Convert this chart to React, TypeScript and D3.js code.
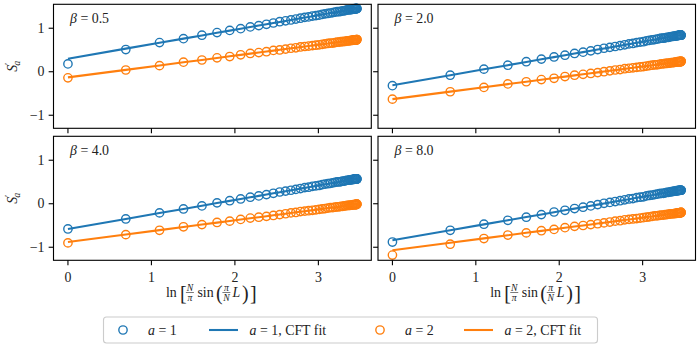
import * as d3 from 'd3'

// x = ln[N/pi sin(pi L / N)], N = 100, L = 1..50
const xLogChord = [
  0.000, 0.693, 1.097, 1.384, 1.605, 1.786, 1.938, 2.069, 2.184, 2.286,
  2.378, 2.461, 2.537, 2.607, 2.671, 2.730, 2.785, 2.837, 2.884, 2.929,
  2.971, 3.010, 3.047, 3.081, 3.114, 3.144, 3.173, 3.200, 3.225, 3.249,
  3.271, 3.291, 3.311, 3.328, 3.345, 3.361, 3.375, 3.388, 3.400, 3.410,
  3.420, 3.429, 3.436, 3.443, 3.448, 3.453, 3.456, 3.459, 3.460, 3.461,
]

const betas = ['0.5', '2.0', '4.0', '8.0']

const sA1Beta05 = [
  0.18, 0.51, 0.67, 0.76, 0.84, 0.90, 0.95, 0.99, 1.03, 1.06,
  1.09, 1.12, 1.15, 1.17, 1.19, 1.21, 1.23, 1.25, 1.26, 1.28,
  1.29, 1.30, 1.32, 1.33, 1.34, 1.35, 1.36, 1.37, 1.38, 1.38,
  1.39, 1.40, 1.40, 1.41, 1.42, 1.42, 1.43, 1.43, 1.43, 1.44,
  1.44, 1.44, 1.45, 1.45, 1.45, 1.45, 1.45, 1.45, 1.45, 1.45,
]
const sA2Beta05 = [
  -0.14, 0.04, 0.14, 0.22, 0.27, 0.32, 0.35, 0.39, 0.42, 0.44,
  0.46, 0.49, 0.50, 0.52, 0.54, 0.55, 0.57, 0.58, 0.59, 0.60,
  0.61, 0.62, 0.63, 0.64, 0.65, 0.66, 0.66, 0.67, 0.68, 0.68,
  0.69, 0.69, 0.70, 0.70, 0.71, 0.71, 0.71, 0.72, 0.72, 0.72,
  0.73, 0.73, 0.73, 0.73, 0.73, 0.73, 0.73, 0.74, 0.74, 0.74,
]
const sA1Beta2 = [
  -0.32, -0.08, 0.06, 0.15, 0.23, 0.29, 0.34, 0.38, 0.42, 0.45,
  0.48, 0.51, 0.54, 0.56, 0.58, 0.60, 0.62, 0.64, 0.65, 0.67,
  0.68, 0.69, 0.71, 0.72, 0.73, 0.74, 0.75, 0.76, 0.77, 0.77,
  0.78, 0.79, 0.79, 0.80, 0.81, 0.81, 0.82, 0.82, 0.82, 0.83,
  0.83, 0.83, 0.84, 0.84, 0.84, 0.84, 0.84, 0.84, 0.84, 0.84,
]
const sA2Beta2 = [
  -0.63, -0.46, -0.36, -0.28, -0.23, -0.18, -0.15, -0.11, -0.08, -0.06,
  -0.04, -0.02, 0.00, 0.02, 0.04, 0.05, 0.07, 0.08, 0.09, 0.10,
  0.11, 0.12, 0.13, 0.14, 0.15, 0.16, 0.16, 0.17, 0.18, 0.18,
  0.19, 0.19, 0.20, 0.20, 0.21, 0.21, 0.21, 0.22, 0.22, 0.22,
  0.23, 0.23, 0.23, 0.23, 0.23, 0.23, 0.23, 0.24, 0.24, 0.24,
]
const sA1Beta4 = [
  -0.58, -0.35, -0.21, -0.12, -0.05, 0.02, 0.07, 0.11, 0.15, 0.18,
  0.21, 0.24, 0.27, 0.29, 0.31, 0.33, 0.35, 0.37, 0.38, 0.40,
  0.41, 0.42, 0.44, 0.45, 0.46, 0.47, 0.48, 0.49, 0.50, 0.50,
  0.51, 0.52, 0.52, 0.53, 0.54, 0.54, 0.55, 0.55, 0.55, 0.56,
  0.56, 0.56, 0.57, 0.57, 0.57, 0.57, 0.57, 0.57, 0.57, 0.57,
]
const sA2Beta4 = [
  -0.90, -0.71, -0.61, -0.53, -0.48, -0.43, -0.40, -0.36, -0.33, -0.31,
  -0.29, -0.27, -0.25, -0.23, -0.21, -0.20, -0.18, -0.17, -0.16, -0.15,
  -0.14, -0.13, -0.12, -0.11, -0.10, -0.09, -0.09, -0.08, -0.07, -0.07,
  -0.06, -0.06, -0.05, -0.05, -0.04, -0.04, -0.04, -0.03, -0.03, -0.03,
  -0.02, -0.02, -0.02, -0.02, -0.02, -0.02, -0.02, -0.01, -0.01, -0.01,
]
const sA1Beta8 = [
  -0.88, -0.61, -0.47, -0.38, -0.31, -0.25, -0.19, -0.15, -0.11, -0.08,
  -0.05, -0.02, 0.01, 0.03, 0.05, 0.07, 0.09, 0.11, 0.12, 0.14,
  0.15, 0.16, 0.18, 0.19, 0.20, 0.21, 0.22, 0.23, 0.24, 0.24,
  0.25, 0.26, 0.26, 0.27, 0.28, 0.28, 0.29, 0.29, 0.29, 0.30,
  0.30, 0.30, 0.31, 0.31, 0.31, 0.31, 0.31, 0.31, 0.31, 0.31,
]
const sA2Beta8 = [
  -1.18, -0.93, -0.80, -0.72, -0.67, -0.62, -0.59, -0.55, -0.52, -0.50,
  -0.48, -0.46, -0.44, -0.42, -0.40, -0.39, -0.37, -0.36, -0.35, -0.34,
  -0.33, -0.32, -0.31, -0.30, -0.29, -0.28, -0.28, -0.27, -0.26, -0.26,
  -0.25, -0.25, -0.24, -0.24, -0.23, -0.23, -0.23, -0.22, -0.22, -0.22,
  -0.21, -0.21, -0.21, -0.21, -0.21, -0.21, -0.21, -0.20, -0.20, -0.20,
]

// CFT fit: S = slope * x + intercept
const fitA1Slope = [0.333, 0.333, 0.333, 0.333]
const fitA1Intercept = [0.30, -0.31, -0.58, -0.84]
const fitA2Slope = [0.25, 0.25, 0.25, 0.25]
const fitA2Intercept = [-0.13, -0.63, -0.88, -1.07]

const seriesA1 = [sA1Beta05, sA1Beta2, sA1Beta4, sA1Beta8]
const seriesA2 = [sA2Beta05, sA2Beta2, sA2Beta4, sA2Beta8]

const xTicks = [0, 1, 2, 3]
const yTicks = [-1, 0, 1]

const BLUE = '#1f77b4'
const ORANGE = '#ff7f0e'
const FONT = '"Liberation Serif", "DejaVu Serif", serif'
const FS = 13.9
const INK = '#222'

const cols = [{ x0: 53.5, x1: 371.3 }, { x0: 378, x1: 695.5 }]
const rows = [{ y0: 4.3, y1: 128.3 }, { y0: 136.3, y1: 260.3 }]

const Panel = ({ i }: { i: number }) => {
  const col = cols[i % 2]
  const row = rows[Math.floor(i / 2)]
  const x = d3.scaleLinear().domain([-0.173, 3.634]).range([col.x0, col.x1])
  const y = d3.scaleLinear().domain([-1.30, 1.55]).range([row.y1, row.y0])
  const showX = row === rows[1]
  const showY = col === cols[0]

  const fitLine = (s: number, b: number) =>
    d3.line<number>().x(d => x(d)).y(d => y(s * d + b))(xLogChord) || ''

  const marks = (vals: number[], color: string) =>
    vals.map((v, k) => (
      <circle key={k} cx={x(xLogChord[k])} cy={y(v)} r={4.17}
        fill="none" stroke={color} strokeWidth={1.39} />
    ))

  return (
    <g>
      {marks(seriesA1[i], BLUE)}
      <path d={fitLine(fitA1Slope[i], fitA1Intercept[i])} fill="none" stroke={BLUE} strokeWidth={2.08} />
      {marks(seriesA2[i], ORANGE)}
      <path d={fitLine(fitA2Slope[i], fitA2Intercept[i])} fill="none" stroke={ORANGE} strokeWidth={2.08} />

      <rect x={col.x0} y={row.y0} width={col.x1 - col.x0} height={row.y1 - row.y0}
        fill="none" stroke="#000" strokeWidth={1.11} />

      {xTicks.map(t => (
        <g key={t}>
          <line x1={x(t)} x2={x(t)} y1={row.y1} y2={row.y1 + 4.86} stroke="#000" strokeWidth={1.11} />
          {showX && (
            <text x={x(t)} y={282} textAnchor="middle" fontSize={FS} fontFamily={FONT} fill={INK}>{t}</text>
          )}
        </g>
      ))}
      {yTicks.map(t => (
        <g key={t}>
          <line x1={col.x0 - 4.86} x2={col.x0} y1={y(t)} y2={y(t)} stroke="#000" strokeWidth={1.11} />
          {showY && (
            <text x={col.x0 - 9} y={y(t)} dy="0.33em" textAnchor="end" fontSize={FS} fontFamily={FONT} fill={INK}>
              {t < 0 ? '\u2212' + Math.abs(t) : t}
            </text>
          )}
        </g>
      ))}

      <text x={col.x0 + 16.5} y={row.y0 + 18.5} fontSize={FS} fontFamily={FONT} fill={INK}>
        <tspan fontStyle="italic">β</tspan> = {betas[i]}
      </text>
    </g>
  )
}

const Frac = ({ cx, y, top, bottom, w }: { cx: number, y: number, top: string, bottom: string, w: number }) => (
  <g fontFamily={FONT} fontStyle="italic" fontSize={9.7} fill={INK}>
    <text x={cx} y={y - 6.5} textAnchor="middle">{top}</text>
    <line x1={cx - w / 2} x2={cx + w / 2} y1={y - 4.5} y2={y - 4.5} stroke={INK} strokeWidth={0.6} />
    <text x={cx} y={y + 3.5} textAnchor="middle">{bottom}</text>
  </g>
)

const XLabel = ({ cx }: { cx: number }) => {
  const l = cx - 46.5
  const y = 297
  return (
    <g fontFamily={FONT} fontSize={FS} fill={INK}>
      <text x={l} y={y}>ln</text>
      <text x={l + 14} y={y + 3} fontSize={20}>[</text>
      <Frac cx={l + 24} y={y} top="N" bottom="π" w={8} />
      <text x={l + 31.5} y={y}>sin</text>
      <text x={l + 50} y={y + 3} fontSize={20}>(</text>
      <Frac cx={l + 60.5} y={y} top="π" bottom="N" w={8} />
      <text x={l + 66.5} y={y} fontStyle="italic">L</text>
      <text x={l + 76} y={y + 3} fontSize={20}>)</text>
      <text x={l + 84} y={y + 3} fontSize={20}>]</text>
    </g>
  )
}

const YLabel = ({ cy }: { cy: number }) => (
  <text transform={`translate(17,${cy}) rotate(-90)`} textAnchor="middle" fontFamily={FONT} fontSize={FS} fill={INK}>
    <tspan fontStyle="italic">S</tspan>
    <tspan fontSize={10} dy={-5}>′</tspan>
    <tspan fontSize={10} fontStyle="italic" dx={-3} dy={8}>a</tspan>
  </text>
)

const Legend = () => {
  const cy = 330
  const label = (x: number, a: number, fit: boolean) => (
    <text x={x} y={cy + 4.5} fontFamily={FONT} fontSize={FS} fill={INK}>
      <tspan fontStyle="italic">a</tspan> = {a}{fit ? ', CFT fit' : ''}
    </text>
  )
  return (
    <g>
      <rect x={103.5} y={317} width={494} height={26} rx={3} fill="#fff" fillOpacity={0.8}
        stroke="#ccc" strokeWidth={1.11} />
      <circle cx={123} cy={cy} r={4.17} fill="none" stroke={BLUE} strokeWidth={1.39} />
      {label(148, 1, false)}
      <line x1={209} x2={238} y1={cy} y2={cy} stroke={BLUE} strokeWidth={2.08} />
      {label(249.5, 1, true)}
      <circle cx={380} cy={cy} r={4.17} fill="none" stroke={ORANGE} strokeWidth={1.39} />
      {label(405, 2, false)}
      <line x1={464} x2={493} y1={cy} y2={cy} stroke={ORANGE} strokeWidth={2.08} />
      {label(504.5, 2, true)}
    </g>
  )
}

export default function App() {
  return (
    <svg width={700} height={350} style={{ position: 'absolute', left: 0, top: 0, background: '#fff' }}>
      {[0, 1, 2, 3].map(i => <Panel key={i} i={i} />)}
      <YLabel cy={(rows[0].y0 + rows[0].y1) / 2} />
      <YLabel cy={(rows[1].y0 + rows[1].y1) / 2} />
      <XLabel cx={(cols[0].x0 + cols[0].x1) / 2} />
      <XLabel cx={(cols[1].x0 + cols[1].x1) / 2} />
      <Legend />
    </svg>
  )
}
